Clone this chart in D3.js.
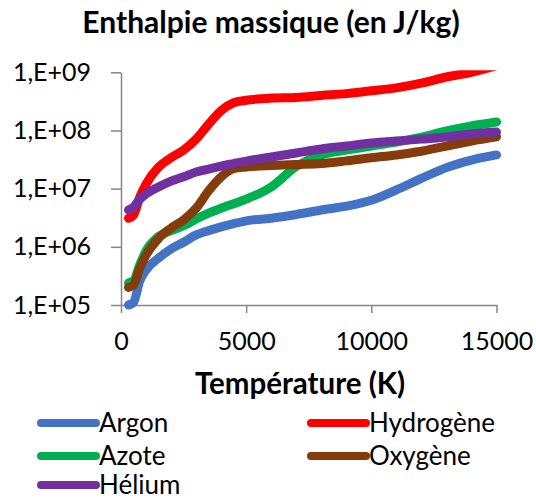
<!DOCTYPE html>
<html>
<head>
<meta charset="utf-8">
<script src="https://cdn.jsdelivr.net/npm/d3@7"></script>
<style>
  body { margin: 0; background: #fff; }
  text { font-family: Lato, "Liberation Sans", sans-serif; fill: #000; }
</style>
</head>
<body>
<div id="chart"></div>
<script>
// temperatures (K) at which the curves were read
const temperatures = [300, 500, 750, 1000, 1500, 2000, 2500, 3000, 3500, 4000, 4500, 5000, 6000, 7000, 8000, 9000, 10000, 11000, 12000, 13000, 14000, 15000];

// enthalpie massique (J/kg)
const argon     = [1.0e5, 1.1e5, 2.6e5, 4.0e5, 6.4e5, 9.2e5, 1.2e6, 1.6e6, 1.9e6, 2.2e6, 2.5e6, 2.8e6, 3.1e6, 3.6e6, 4.3e6, 5.0e6, 6.3e6, 9.5e6, 1.5e7, 2.3e7, 3.1e7, 3.8e7];
const hydrogene = [3.1e6, 3.5e6, 7.2e6, 1.2e7, 2.35e7, 3.4e7, 4.6e7, 7.1e7, 1.28e8, 2.2e8, 3.0e8, 3.3e8, 3.6e8, 3.7e8, 4.0e8, 4.3e8, 4.8e8, 5.4e8, 6.5e8, 8.3e8, 1.0e9, 1.3e9];
const azote     = [2.4e5, 2.6e5, 4.9e5, 8.5e5, 1.5e6, 1.9e6, 2.3e6, 3.0e6, 3.8e6, 4.6e6, 5.5e6, 6.6e6, 1.07e7, 2.4e7, 3.8e7, 4.6e7, 5.4e7, 6.3e7, 7.7e7, 9.8e7, 1.2e8, 1.4e8];
const oxygene   = [2.0e5, 2.2e5, 4.3e5, 7.2e5, 1.4e6, 2.1e6, 2.9e6, 4.6e6, 9.2e6, 1.6e7, 2.2e7, 2.35e7, 2.5e7, 2.6e7, 2.7e7, 3.0e7, 3.4e7, 3.8e7, 4.4e7, 5.4e7, 6.6e7, 7.8e7];
const helium    = [4.3e6, 4.8e6, 6.6e6, 8.1e6, 1.07e7, 1.35e7, 1.6e7, 1.93e7, 2.17e7, 2.44e7, 2.7e7, 2.98e7, 3.5e7, 4.1e7, 4.8e7, 5.4e7, 6.1e7, 6.6e7, 7.1e7, 7.7e7, 8.7e7, 9.4e7];

const seriesNames = ["Argon", "Hydrogène", "Azote", "Oxygène", "Hélium"];
const seriesValues = [argon, hydrogene, azote, oxygene, helium];
const seriesColors = ["#4472C4", "#FF0000", "#00B050", "#843C0C", "#7030A0"];

const xTicks = [0, 5000, 10000, 15000];
const yTicks = [1e5, 1e6, 1e7, 1e8, 1e9];
const yTickLabels = ["1,E+05", "1,E+06", "1,E+07", "1,E+08", "1,E+09"];

const width = 536, height = 500;
const plot = { left: 121, right: 496.5, top: 72.3, bottom: 305 };

const svg = d3.select("#chart").append("svg")
  .attr("width", width)
  .attr("height", height);

const x = d3.scaleLinear().domain([0, 15000]).range([plot.left, plot.right]);
const y = d3.scaleLog().domain([1e5, 1e9]).range([plot.bottom, plot.top]);

// title
svg.append("text")
  .attr("x", 271).attr("y", 33)
  .attr("text-anchor", "middle")
  .style("font-size", "30px").style("font-weight", "bold")
  .text("Enthalpie massique (en J/kg)");

// axes
const yAxis = d3.axisLeft(y)
  .tickValues(yTicks)
  .tickFormat((d, i) => yTickLabels[i])
  .tickSize(10).tickSizeOuter(0).tickPadding(20);

const xAxis = d3.axisBottom(x)
  .tickValues(xTicks)
  .tickFormat(d3.format("d"))
  .tickSize(8).tickSizeOuter(0).tickPadding(19);

const gx = svg.append("g")
  .attr("transform", `translate(0,${plot.bottom})`)
  .call(xAxis);
const gy = svg.append("g")
  .attr("transform", `translate(${plot.left},0)`)
  .call(yAxis);

[gx, gy].forEach(g => {
  g.selectAll("path, line").attr("stroke", "#868686").attr("stroke-width", 1.5);
  g.selectAll("text").style("font-size", "25px").style("font-family", "Lato, 'Liberation Sans', sans-serif").attr("fill", "#000");
});

// x axis title
svg.append("text")
  .attr("x", 300).attr("y", 394)
  .attr("text-anchor", "middle")
  .style("font-size", "29.5px").style("font-weight", "bold")
  .text("Température (K)");

// curves
svg.append("clipPath").attr("id", "clip")
  .append("rect")
  .attr("x", plot.left - 8).attr("y", plot.top - 2)
  .attr("width", plot.right - plot.left + 16)
  .attr("height", plot.bottom - plot.top + 8);

const line = d3.line()
  .x((d, i) => x(temperatures[i]))
  .y(d => y(d))
  .curve(d3.curveMonotoneX);

svg.append("g").attr("clip-path", "url(#clip)")
  .selectAll("path")
  .data(seriesValues)
  .join("path")
  .attr("d", line)
  .attr("fill", "none")
  .attr("stroke", (d, i) => seriesColors[i])
  .attr("stroke-width", 9)
  .attr("stroke-linecap", "round")
  .attr("stroke-linejoin", "round");

// legend (two columns, row-major)
const legend = svg.append("g")
  .selectAll("g")
  .data(seriesNames)
  .join("g")
  .attr("transform", (d, i) => `translate(${i % 2 === 0 ? 41 : 311},${[423, 456, 485][Math.floor(i / 2)]})`);

legend.append("line")
  .attr("x1", 0).attr("x2", 55)
  .attr("stroke", (d, i) => seriesColors[i])
  .attr("stroke-width", 8)
  .attr("stroke-linecap", "round");

legend.append("text")
  .attr("x", 58)
  .attr("dy", "0.35em")
  .style("font-size", "26px")
  .text(d => d);
</script>
</body>
</html>
